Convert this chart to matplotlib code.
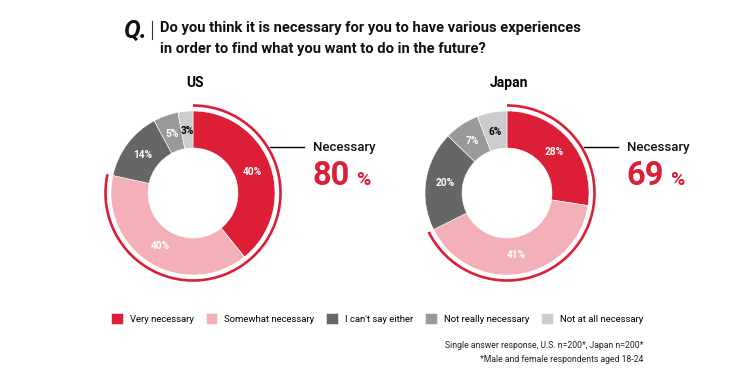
import matplotlib
matplotlib.use("Agg")
import matplotlib.pyplot as plt
import numpy as np
from matplotlib.patches import Arc

plt.rcParams['font.family'] = ['Roboto', 'DejaVu Sans']

W, H = 746, 378

categories = ["Very necessary", "Somewhat necessary", "I can't say either",
              "Not really necessary", "Not at all necessary"]
colors = ["#dc1e36", "#f3b0b9", "#666666", "#999999", "#cccccc"]
label_colors = ["white", "white", "white", "white", "black"]

countries = ["US", "Japan"]
us_values = [40, 40, 14, 5, 3]
japan_values = [28, 41, 20, 7, 6]
necessary = [80, 69]

title_lines = ["Do you think it is necessary for you to have various experiences",
               "in order to find what you want to do in the future?"]
notes = ["Single answer response, U.S. n=200*, Japan n=200*",
         "*Male and female respondents aged 18-24"]

fig = plt.figure(figsize=(W / 100, H / 100), dpi=100)
ax = fig.add_axes([0, 0, 1, 1])

# donut layout in pixels (y measured from top)
centers = [(193, 193), (507, 193)]
R, ring = 82, 37
arc_r = 87.5

wedge_sets = []
for (cx, cy), vals, name, nec in zip(centers, [us_values, japan_values], countries, necessary):
    wedges, _ = ax.pie(vals, colors=colors, startangle=90, counterclock=False,
                       center=(cx, H - cy), radius=R,
                       wedgeprops=dict(width=ring, edgecolor="white", linewidth=0.4))
    wedge_sets.append(wedges)
    # percentage labels
    for w, v, lc in zip(wedges, vals, label_colors):
        mid = np.deg2rad((w.theta1 + w.theta2) / 2)
        rr = R - ring / 2 - 1
        ax.text(cx + rr * np.cos(mid), H - cy + rr * np.sin(mid), f"{v}%",
                ha="center", va="center", fontsize=7.3, fontweight="bold", color=lc)
    # red arc round the "necessary" share
    arc = Arc((cx, H - cy), 2 * arc_r, 2 * arc_r, theta1=wedges[1].theta1,
              theta2=wedges[0].theta2, color=colors[0], lw=1.9)
    ax.add_patch(arc)
    # country name
    ax.text(cx + 2, H - 83, name, ha="center", va="center", fontsize=10, fontweight="bold")
    # leader line + callout
    ax.plot([cx + 77, cx + 111], [H - 146.5, H - 146.5], color="black", lw=1.0)
    ax.text(cx + 120, H - 147, "Necessary", ha="left", va="center", fontsize=9.5,
            fontweight="medium", color="#111111")
    ax.text(cx + 119, H - 185, f"{nec}", ha="left", va="baseline", fontsize=23.5,
            fontweight="bold", color=colors[0])
    ax.text(cx + 163, H - 185, "%", ha="left", va="baseline", fontsize=14,
            fontweight="bold", color=colors[0])

# question header
ax.text(123, H - 38, "Q.", ha="left", va="baseline", fontsize=18, fontweight="bold",
        fontstyle="italic", color="#111111")
ax.plot([152, 152], [H - 21, H - 39], color="#333333", lw=0.8)
ax.text(160, H - 28, title_lines[0], ha="left", va="center", fontsize=10.6,
        fontweight="bold", color="#111111")
ax.text(160, H - 48.5, title_lines[1], ha="left", va="center", fontsize=10.6,
        fontweight="bold", color="#111111")

# legend
fig.legend(wedge_sets[0], categories, loc="center left",
           bbox_to_anchor=(111 / W, 1 - 318.5 / H), ncol=5, frameon=False,
           fontsize=6.8, handlelength=1.25, handleheight=1.3, handletextpad=0.75,
           columnspacing=1.25, borderpad=0, borderaxespad=0)

# notes
ax.text(643, H - 346, notes[0], ha="right", va="center", fontsize=6.25, color="#222222")
ax.text(643, H - 359.5, notes[1], ha="right", va="center", fontsize=6.25, color="#222222")

ax.set_xlim(0, W)
ax.set_ylim(0, H)
ax.set_aspect("auto")
ax.axis("off")

fig.savefig("out.png", dpi=100)
